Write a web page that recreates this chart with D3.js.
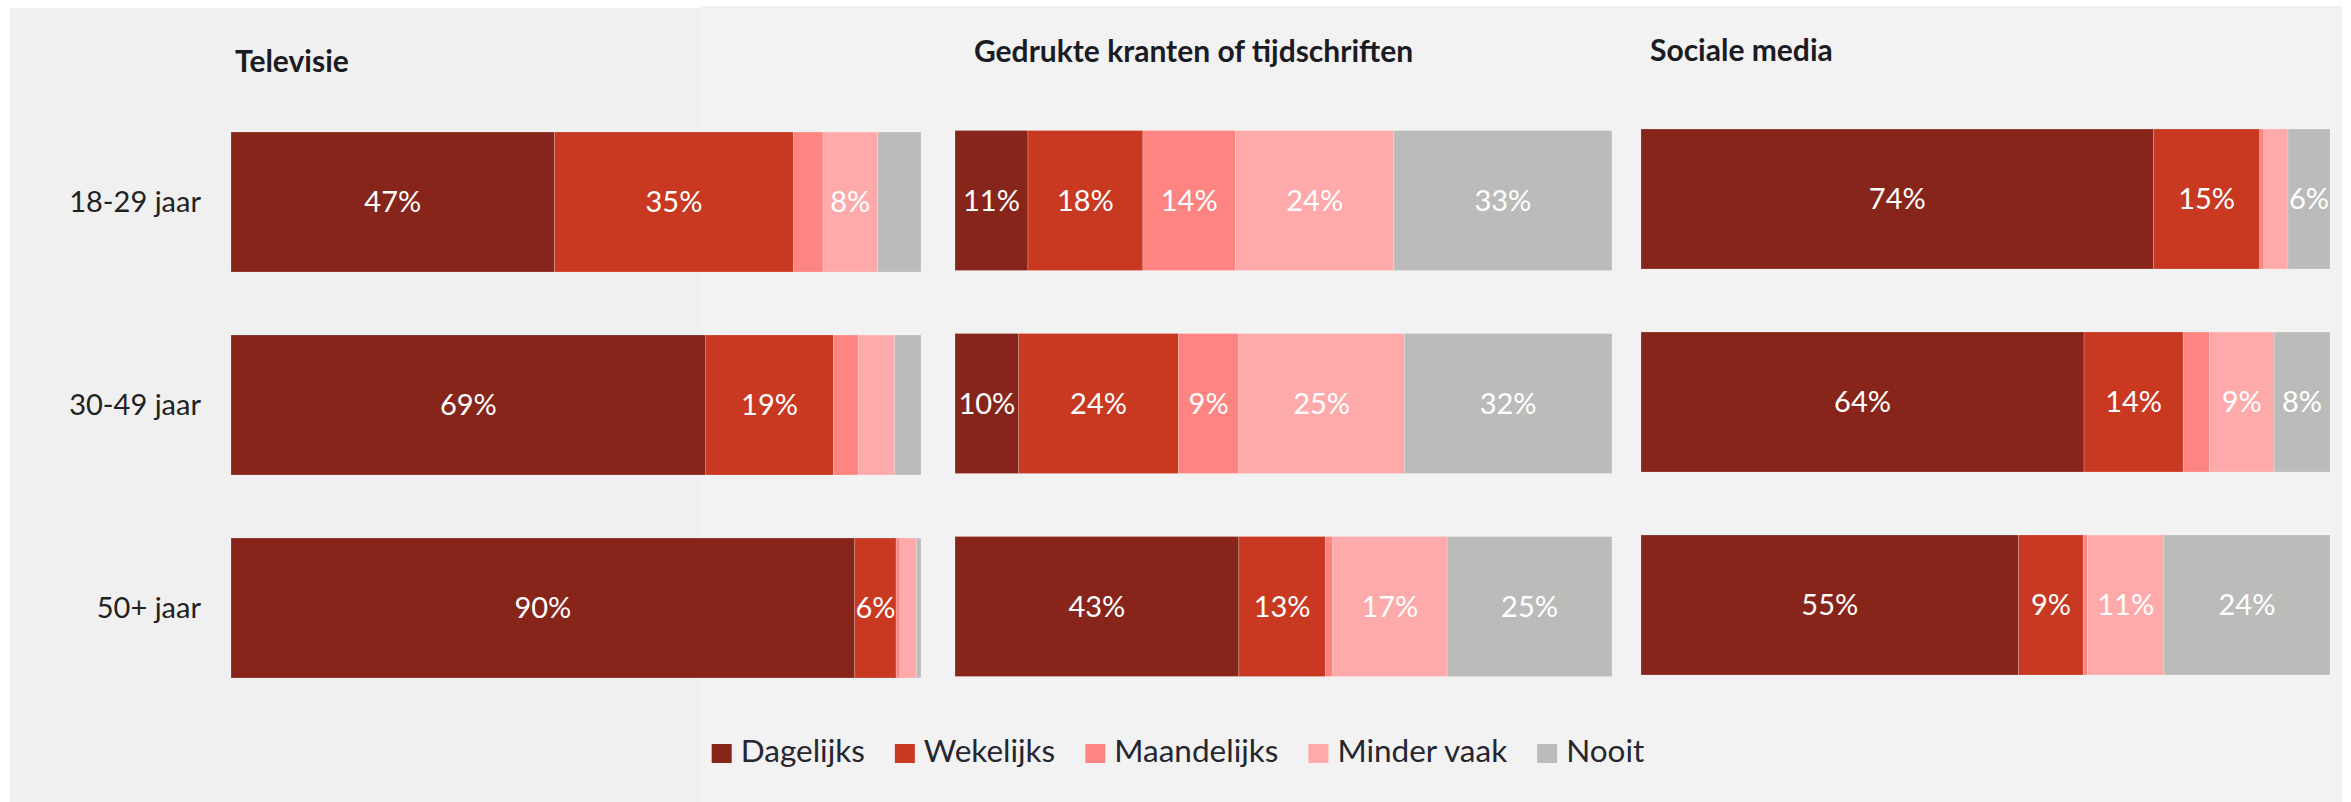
<!DOCTYPE html>
<html>
<head>
<meta charset="utf-8">
<script src="https://cdn.jsdelivr.net/npm/d3@7/dist/d3.min.js"></script>
<style>
  html, body { margin: 0; padding: 0; background: #fff; }
  svg text { font-family: Lato, "Open Sans", sans-serif; }
</style>
</head>
<body>
<svg id="chart" width="2351" height="802"></svg>
<script>
  // data (percent per age group)
  var categories = ["18-29 jaar", "30-49 jaar", "50+ jaar"];
  var series = ["Dagelijks", "Wekelijks", "Maandelijks", "Minder vaak", "Nooit"];
  var colors = ["#88251a", "#c93820", "#fe8482", "#ffaaaa", "#bbbbb9"];
  var panelTitles = ["Televisie", "Gedrukte kranten of tijdschriften", "Sociale media"];

  var televisie = [[46.9, 34.6, 4.3, 7.9, 6.3], [68.8, 18.5, 3.6, 5.3, 3.8], [90.4, 6.0, 0.55, 2.4, 0.65]];
  var televisieLabels = [["47%", "35%", "", "8%", ""], ["69%", "19%", "", "", ""], ["90%", "6%", "", "", ""]];

  var kranten = [[11.1, 17.5, 14.1, 24.1, 33.2], [9.7, 24.3, 9.2, 25.2, 31.6], [43.2, 13.2, 1.1, 17.4, 25.1]];
  var krantenLabels = [["11%", "18%", "14%", "24%", "33%"], ["10%", "24%", "9%", "25%", "32%"], ["43%", "13%", "", "17%", "25%"]];

  var sociaal = [[74.4, 15.4, 0.6, 3.5, 6.1], [64.3, 14.4, 3.8, 9.4, 8.1], [54.8, 9.4, 0.6, 11.1, 24.1]];
  var sociaalLabels = [["74%", "15%", "", "", "6%"], ["64%", "14%", "", "9%", "8%"], ["55%", "9%", "", "11%", "24%"]];

  var panelValues = [televisie, kranten, sociaal];
  var panelLabels = [televisieLabels, krantenLabels, sociaalLabels];

  var svg = d3.select("#chart");

  // background (two pasted pieces, slightly different grey)
  svg.append("rect").attr("x", 10).attr("y", 8).attr("width", 691).attr("height", 794).attr("fill", "#f0f0f0");
  svg.append("rect").attr("x", 701).attr("y", 6).attr("width", 1641).attr("height", 796).attr("fill", "#f2f2f2");

  var layout = [
    { x0: 231, x1: 921, dy: 0, tx: 235, ty: 72 },
    { x0: 955, x1: 1612, dy: -1.5, tx: 974, ty: 62 },
    { x0: 1641, x1: 2330, dy: -3, tx: 1650, ty: 61 }
  ];

  var color = d3.scaleOrdinal().domain(series).range(colors);

  var yScale = d3.scaleBand()
    .domain(categories)
    .range([132, 678])
    .paddingInner(63 / 203)
    .paddingOuter(0);

  // age labels on the left
  svg.append("g").attr("class", "y-axis")
    .selectAll("text")
    .data(categories)
    .enter().append("text")
      .attr("x", 201)
      .attr("y", function (d) { return yScale(d) + yScale.bandwidth() / 2; })
      .attr("dy", "0.36em")
      .attr("text-anchor", "end")
      .attr("fill", "#222")
      .style("font-size", "29px")
      .text(function (d) { return d; });

  panelValues.forEach(function (vals, p) {
    var lay = layout[p];
    var xScale = d3.scaleLinear().domain([0, 100]).range([lay.x0, lay.x1]);

    var rows = vals.map(function (v, i) {
      var o = { cat: categories[i] };
      series.forEach(function (s, k) { o[s] = v[k]; });
      return o;
    });
    var stacked = d3.stack().keys(series)(rows);

    var g = svg.append("g").attr("transform", "translate(0," + lay.dy + ")");

    svg.append("text")
      .attr("x", lay.tx)
      .attr("y", lay.ty)
      .attr("fill", "#1b1b24")
      .style("font-size", "30px")
      .style("font-weight", "bold")
      .text(panelTitles[p]);

    var layer = g.selectAll("g.layer")
      .data(stacked)
      .enter().append("g")
        .attr("class", "layer")
        .attr("fill", function (d) { return color(d.key); });

    layer.selectAll("rect")
      .data(function (d) { return d; })
      .enter().append("rect")
        .attr("x", function (d) { return xScale(d[0]); })
        .attr("y", function (d) { return yScale(d.data.cat); })
        .attr("width", function (d) { return xScale(d[1]) - xScale(d[0]); })
        .attr("height", yScale.bandwidth())
        .attr("stroke", "rgba(255,255,255,0.25)")
        .attr("stroke-width", 0.8);

    layer.selectAll("text")
      .data(function (d, k) { return d.map(function (e, i) { return { e: e, label: panelLabels[p][i][k] }; }); })
      .enter().append("text")
        .filter(function (d) { return d.label !== ""; })
        .attr("x", function (d) { return (xScale(d.e[0]) + xScale(d.e[1])) / 2; })
        .attr("y", function (d) { return yScale(d.e.data.cat) + yScale.bandwidth() / 2; })
        .attr("dy", "0.36em")
        .attr("text-anchor", "middle")
        .attr("fill", "#fff")
        .style("font-size", "29px")
        .text(function (d) { return d.label; });
  });

  // legend, centred
  var legend = svg.append("g").attr("class", "legend");
  var items = legend.selectAll("g.item")
    .data(series)
    .enter().append("g").attr("class", "item");
  items.append("rect")
    .attr("width", 20).attr("height", 19)
    .attr("y", 744)
    .attr("fill", function (d) { return color(d); });
  items.append("text")
    .attr("y", 762)
    .attr("fill", "#26262e")
    .style("font-size", "31.5px")
    .text(function (d) { return d; });

  var pos = 0;
  var starts = [];
  items.each(function () {
    starts.push(pos);
    var w = d3.select(this).select("text").node().getComputedTextLength();
    pos += 29 + w + 30;
  });
  var total = pos - 30;
  var left = 1178 - total / 2;
  items.each(function (d, i) {
    d3.select(this).select("rect").attr("x", left + starts[i]);
    d3.select(this).select("text").attr("x", left + starts[i] + 29);
  });
</script>
</body>
</html>
